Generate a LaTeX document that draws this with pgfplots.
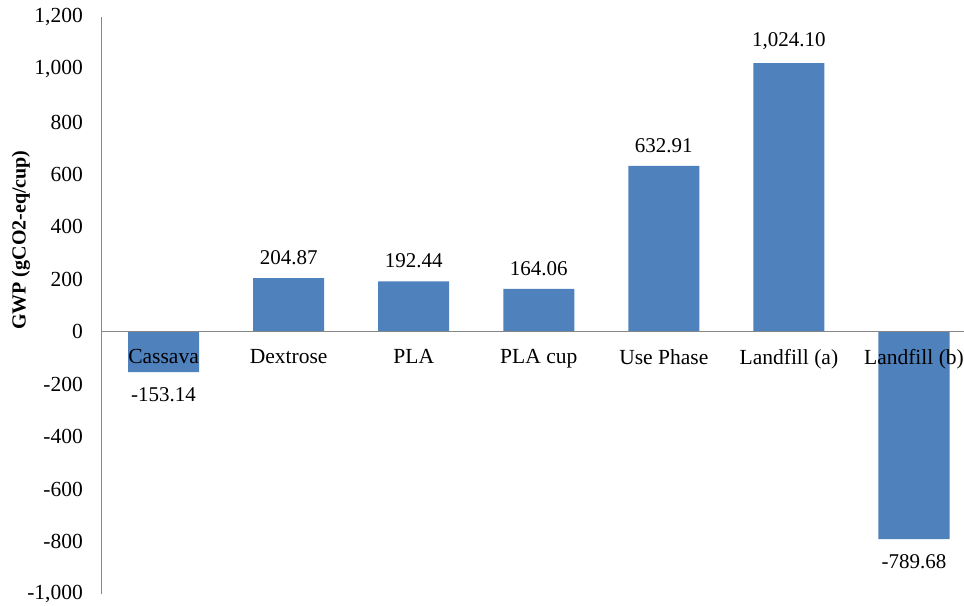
\documentclass[border=0pt]{standalone}
\usepackage{fontspec}
\setmainfont{Liberation Serif}
\usepackage{pgfplots}
\pgfplotsset{compat=1.18}
\definecolor{barblue}{HTML}{4F81BD}
\definecolor{axgray}{HTML}{868686}
\begin{document}
\begin{tikzpicture}[font=\fontsize{21}{25}\selectfont]
\begin{axis}[
  name=ax,
  scale only axis, width=862.5pt, height=577pt,
  xmin=-0.5, xmax=6.4, ymin=-1000, ymax=1200,
  axis x line*=middle, axis y line*=left,
  axis line style={axgray, line width=1pt, -},
  major tick length=0pt,
  ytick={-1000,-800,-600,-400,-200,0,200,400,600,800,1000,1200},
  yticklabels={{-1,000},{-800},{-600},{-400},{-200},{0},{200},{400},{600},{800},{1,000},{1,200}},
  yticklabel style={font=\fontsize{21.5}{25}\selectfont, anchor=east, inner xsep=0pt, inner ysep=0pt, xshift=-18pt},
  xtick={0,1,2,3,4,5,6},
  xticklabels={Cassava, Dextrose, PLA, PLA cup, Use Phase, Landfill (a), Landfill (b)},
  xticklabel style={font=\fontsize{21.5}{25}\selectfont, anchor=north, inner ysep=0pt, inner xsep=0pt, yshift=-17pt},
  ylabel={\textbf{GWP (gCO2-eq/cup)}},
  ylabel style={font=\fontsize{20}{24}\selectfont, at={([xshift=-80pt]axis description cs:0,0.6135)}, anchor=center, inner sep=0pt},
  axis on top,
  ybar, bar width=71pt, bar shift=0pt,
  point meta=explicit symbolic,
  clip=false,
]
\addplot[fill=barblue, draw=none, nodes near coords,
  every node near coord/.append style={font=\fontsize{21}{25}\selectfont, black, anchor=south, inner ysep=13pt}]
  table[x=x, y=y, meta=lab] {
x y lab
1 204.87 204.87
2 192.44 192.44
3 164.06 164.06
4 632.91 632.91
5 1024.10 1,024.10
};
\addplot[fill=barblue, draw=none, nodes near coords,
  every node near coord/.append style={font=\fontsize{21}{25}\selectfont, black, anchor=north, inner ysep=15pt}]
  table[x=x, y=y, meta=lab] {
x y lab
0 -153.14 -153.14
6 -789.68 -789.68
};
\end{axis}
\pgfresetboundingbox
\path[use as bounding box] ([xshift=-101pt,yshift=-11pt]ax.south west) rectangle ([yshift=17pt]ax.north east);
\end{tikzpicture}
\end{document}
